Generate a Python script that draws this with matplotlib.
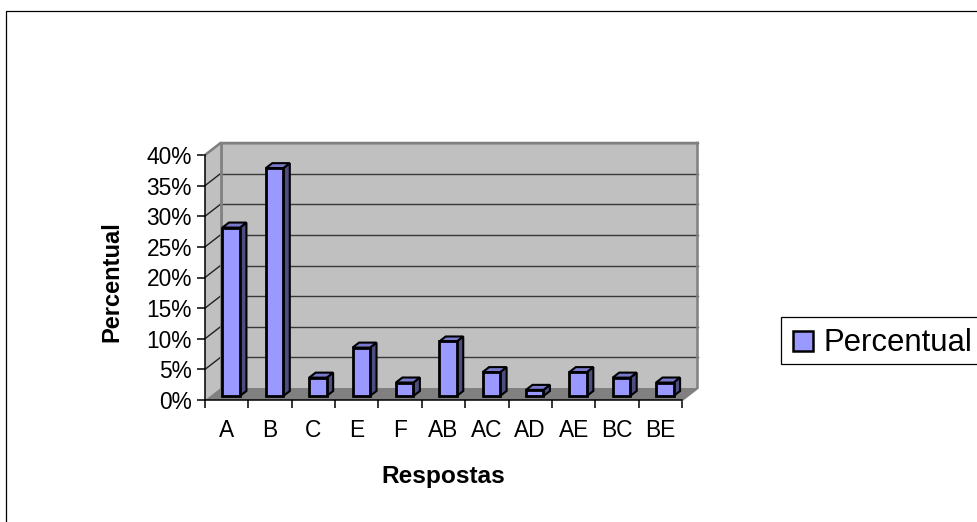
import matplotlib
matplotlib.use("Agg")
import matplotlib.pyplot as plt
from matplotlib.patches import Polygon, Rectangle
from matplotlib.lines import Line2D

plt.rcParams['font.family'] = ['Liberation Sans', 'DejaVu Sans']

categories = ['A', 'B', 'C', 'E', 'F', 'AB', 'AC', 'AD', 'AE', 'BC', 'BE']
values = [27.5, 37.2, 3.0, 7.9, 2.2, 8.9, 3.9, 1.0, 3.9, 3.0, 2.2]
yticks = [0, 5, 10, 15, 20, 25, 30, 35, 40]
series_name = 'Percentual'

W, H = 977, 522
fig = plt.figure(figsize=(W / 100, H / 100), dpi=100, facecolor='white')

# figure frame
fig.add_artist(Line2D([5.9 / W, 5.9 / W, 1], [0, 1 - 11 / H, 1 - 11 / H],
                      transform=fig.transFigure, color='black', lw=0.9))

L, R, T, B = 205, 682, 155, 400
ax = fig.add_axes([L / W, 1 - B / H, (R - L) / W, (B - T) / H])
ax.set_xlim(-0.5, len(categories) - 0.5)
ax.set_ylim(0, 40)
ax.patch.set_visible(False)
for s in ['top', 'right']:
    ax.spines[s].set_visible(False)
for s in ['left', 'bottom']:
    ax.spines[s].set_color('black')
    ax.spines[s].set_linewidth(1.1)
    ax.spines[s].set_zorder(1.8)

PXX = (R - L) / len(categories)
PXY = (B - T) / 40
DX, DY = 15.5 / PXX, 12 / PXY   # wall depth in data units
x0, x1 = -0.5, len(categories) - 0.5

def poly(pts, fc, ec='none', lw=0, z=1):
    ax.add_patch(Polygon(pts, closed=True, facecolor=fc, edgecolor=ec,
                         linewidth=lw, zorder=z, clip_on=False, joinstyle='miter'))

# back wall, side wall, floor
poly([(x0 + DX, DY), (x1 + DX, DY), (x1 + DX, 40 + DY), (x0 + DX, 40 + DY)], '#c0c0c0')
poly([(x0, 0), (x0 + DX, DY), (x0 + DX, 40 + DY), (x0, 40)], '#c0c0c0')
poly([(x0, 0), (x1, 0), (x1 + DX, DY), (x0 + DX, DY)], '#808080')

# grid lines
for v in yticks[1:]:
    ax.plot([x0, x0 + DX], [v, v + DY], color='#202020', lw=1.0,
            zorder=1.5, clip_on=False)
    ax.plot([x0 + DX, x1 + DX], [v + DY, v + DY], color='#383838', lw=1.0,
            zorder=1.5, clip_on=False)
# wall edges
ax.plot([x0 + DX, x0 + DX], [DY, 40 + DY], color='#808080', lw=2.0, zorder=1.7, clip_on=False)
ax.plot([x1 + DX, x1 + DX, x1], [40 + DY, DY, 0], color='#808080', lw=1.8, zorder=1.7,
        clip_on=False, solid_joinstyle='miter')
ax.plot([x0, x0 + DX, x1 + DX], [40, 40 + DY, 40 + DY], color='#808080', lw=1.8, zorder=1.7,
        clip_on=False, solid_joinstyle='miter')

# bars
BW = 17.5 / PXX
SX, SY = 4.5 / PXX, 4 / PXY     # bar offset from front plane
BDX, BDY = 6.5 / PXX, 5 / PXY   # bar depth
for i, v in enumerate(values):
    xl = i - BW / 2 + SX
    xr = i + BW / 2 + SX
    yb = SY
    yt = SY + v
    poly([(xr, yb), (xr + BDX, yb + BDY), (xr + BDX, yt + BDY), (xr, yt)],
         '#4d4d80', 'black', 1.5, z=3)
    poly([(xl, yt), (xr, yt), (xr + BDX, yt + BDY), (xl + BDX, yt + BDY)],
         '#7a7acc', 'black', 1.5, z=3)
    poly([(xl, yb), (xr, yb), (xr, yt), (xl, yt)], '#9999ff', 'black', 2.0, z=4)

# ticks
ax.set_yticks(yticks)
ax.set_yticklabels([f'{v}%' for v in yticks], fontsize=16.4)
ax.tick_params(axis='y', length=6, width=1.1, pad=3.5, color='black')
ax.set_xticks([i - 0.5 for i in range(len(categories) + 1)])
ax.set_xticklabels([])
ax.tick_params(axis='x', length=6, width=1.1, color='black')
ax.set_xticks(range(len(categories)), labels=categories, minor=True, fontsize=16.4)
ax.tick_params(axis='x', which='minor', length=0, pad=14, labelsize=16.4)

fig.text(443 / W, 1 - 476.5 / H, 'Respostas', fontsize=17.6, fontweight='bold',
         ha='center', va='center')
fig.text(112 / W, 1 - 282 / H, series_name, fontsize=17, fontweight='bold',
         rotation=90, ha='center', va='center')

# legend
fig.add_artist(Rectangle((781 / W, 1 - 363.5 / H), 200 / W, 46.5 / H, transform=fig.transFigure,
                         facecolor='white', edgecolor='black', lw=0.9))
fig.add_artist(Rectangle((792.5 / W, 1 - 351 / H), 20 / W, 20 / H, transform=fig.transFigure,
                         facecolor='#9999ff', edgecolor='black', lw=1.8))
fig.text(824 / W, 1 - 343 / H, series_name, fontsize=22.4, ha='left', va='center')

fig.savefig('out.png', dpi=100)
